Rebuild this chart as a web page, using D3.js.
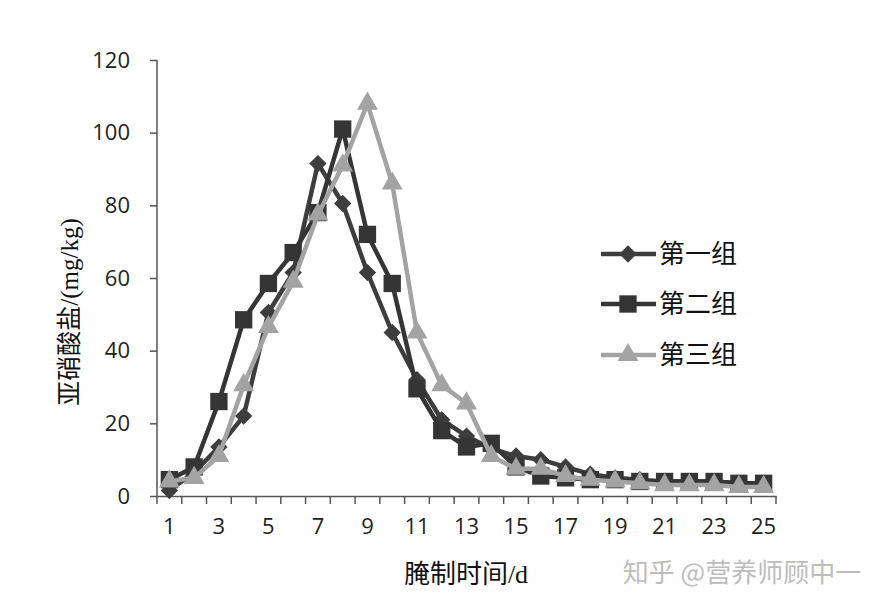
<!DOCTYPE html>
<html>
<head>
<meta charset="utf-8">
<script src="https://cdn.jsdelivr.net/npm/d3@7/dist/d3.min.js"></script>
<style>
  body { margin: 0; background: #fff; }
  svg { display: block; }
</style>
</head>
<body>
<svg id="chart" width="887" height="606"></svg>
<script>
const days = d3.range(1, 26);
const seriesNames = ["第一组", "第二组", "第三组"];
const group1 = [1.5, 6.5, 13.5, 22, 50.5, 61.5, 91.5, 80.5, 61.5, 45, 32, 21, 16.5, 13, 11, 10, 8, 6, 5, 4.5, 4, 4, 4, 3.5, 3.5];
const group2 = [4.5, 8, 26, 48.5, 58.5, 67, 78, 101, 72, 58.5, 29.5, 18, 13.5, 14.5, 8, 5.5, 5, 4.5, 4.5, 4, 4, 4, 4, 3.5, 3.5];
const group3 = [4, 5, 11, 30.5, 46.5, 59, 77.5, 91, 108, 86, 45, 30.5, 25.5, 11, 7.5, 7.5, 5.5, 4.5, 4, 3.5, 3, 3, 3, 2.5, 2.5];
const yTicks = [0, 20, 40, 60, 80, 100, 120];
const xTickLabels = [1, 3, 5, 7, 9, 11, 13, 15, 17, 19, 21, 23, 25];
const yTitle = "亚硝酸盐/(mg/kg)";
const xTitle = "腌制时间/d";
const watermark = "知乎 @营养师顾中一";

const svg = d3.select("#chart");
const x = d3.scaleBand().domain(days).range([157, 776]).padding(0);
const y = d3.scaleLinear().domain([0, 120]).range([496, 60]);
const axisColor = "#555";
const numFont = "'Open Sans', 'DejaVu Sans', sans-serif";
const cjkFont = "'Liberation Serif', 'Noto Sans CJK SC', serif";

// Y axis
const yAxis = svg.append("g").attr("transform", "translate(157,0)")
  .call(d3.axisLeft(y).tickValues(yTicks).tickSize(7).tickPadding(20).tickFormat(d3.format("d")));
yAxis.select(".domain").attr("stroke", axisColor).attr("stroke-width", 1.5).attr("d", "M0,60V496");
yAxis.selectAll(".tick line").attr("stroke", axisColor).attr("stroke-width", 1.5);
yAxis.selectAll(".tick text").attr("font-family", numFont).attr("font-size", 22).attr("fill", "#222");

// X axis
const xAxis = svg.append("g").attr("transform", "translate(0,496)")
  .call(d3.axisBottom(x).tickValues(xTickLabels).tickSize(0).tickPadding(22));
xAxis.select(".domain").attr("stroke", axisColor).attr("stroke-width", 1.5);
xAxis.selectAll(".tick text").attr("font-family", numFont).attr("font-size", 22).attr("fill", "#222");
const bounds = days.map(d => x(d)).concat([x.range()[1]]);
xAxis.selectAll(".bt").data(bounds).enter().append("line")
  .attr("x1", d => d).attr("x2", d => d).attr("y1", 0).attr("y2", 8)
  .attr("stroke", axisColor).attr("stroke-width", 1.5);

// Titles
svg.append("text")
  .attr("transform", "translate(78,312) rotate(-90)")
  .attr("text-anchor", "middle")
  .attr("font-family", cjkFont).attr("font-size", 25).attr("fill", "#111")
  .text(yTitle);
svg.append("text")
  .attr("x", 466).attr("y", 583)
  .attr("text-anchor", "middle")
  .attr("font-family", cjkFont).attr("font-size", 26).attr("fill", "#111")
  .text(xTitle);
svg.append("text")
  .attr("x", 742).attr("y", 582)
  .attr("text-anchor", "middle")
  .attr("font-family", "'Noto Sans CJK SC', sans-serif").attr("font-size", 26).attr("fill", "#bdbdbd")
  .text(watermark);

// Series
const cx = d => x(d) + x.bandwidth() / 2;
const series = [
  { name: seriesNames[0], values: group1, color: "#3d3d3d", symbol: d3.symbolSquare, size: 150, rot: 45 },
  { name: seriesNames[1], values: group2, color: "#353535", symbol: d3.symbolSquare, size: 300, rot: 0 },
  { name: seriesNames[2], values: group3, color: "#a3a3a3", symbol: d3.symbolTriangle, size: 190, rot: 0 }
];
const line = d3.line().x((v, i) => cx(days[i])).y(v => y(v));

series.forEach(s => {
  const g = svg.append("g");
  g.append("path").attr("d", line(s.values)).attr("fill", "none")
    .attr("stroke", s.color).attr("stroke-width", 4.5).attr("stroke-linejoin", "round");
  g.selectAll("path.m").data(s.values).enter().append("path").attr("class", "m")
    .attr("d", d3.symbol().type(s.symbol).size(s.size))
    .attr("transform", (v, i) => `translate(${cx(days[i])},${y(v)}) rotate(${s.rot})`)
    .attr("fill", s.color);
});

// Legend
const legendY = [254, 304, 355];
series.forEach((s, i) => {
  const g = svg.append("g").attr("transform", `translate(0,${legendY[i]})`);
  g.append("line").attr("x1", 601).attr("x2", 656).attr("y1", 0).attr("y2", 0)
    .attr("stroke", s.color).attr("stroke-width", 4.5);
  g.append("path").attr("d", d3.symbol().type(s.symbol).size(s.size)())
    .attr("transform", `translate(628,0) rotate(${s.rot})`).attr("fill", s.color);
  g.append("text").attr("x", 659).attr("y", 0).attr("dy", "0.35em")
    .attr("font-family", cjkFont).attr("font-size", 26).attr("fill", "#111")
    .text(s.name);
});
</script>
</body>
</html>
